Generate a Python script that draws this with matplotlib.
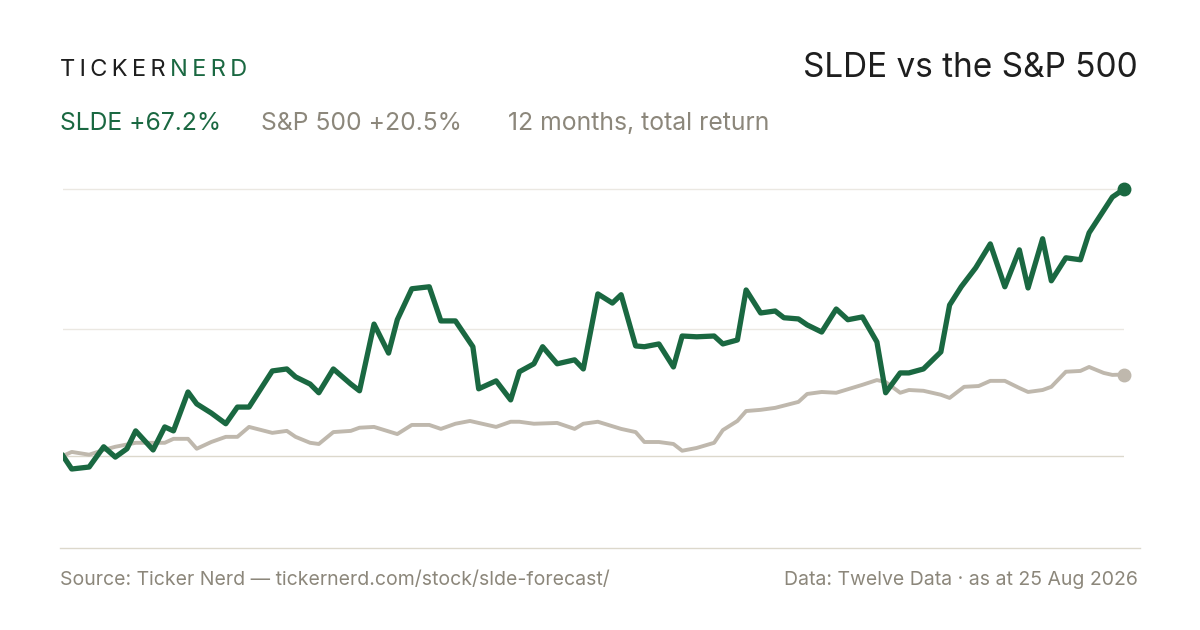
import matplotlib
matplotlib.use('Agg')
import matplotlib.pyplot as plt
from matplotlib.lines import Line2D

plt.rcParams['font.family'] = ['Inter', 'DejaVu Sans']

GREEN = '#1a6841'
GREY_LINE = '#bfb8ad'
GREY_TEXT = '#8c877b'
DARK = '#1e1e1e'

# days since start, total return in %
slde_days = [0, 3, 9, 14, 18, 22, 25, 31, 35, 38, 43, 46, 51, 56, 60, 64, 72, 77, 80, 85,
             88, 93, 99, 102, 107, 112, 115, 120, 126, 130, 135, 141, 143, 149, 154, 157,
             162, 165, 170, 176, 179, 184, 189, 192, 197, 200, 205, 210, 213, 218, 224,
             227, 232, 235, 240, 245, 248, 253, 256, 261, 266, 270, 275, 280, 283, 288,
             291, 296, 302, 305, 309, 314, 319, 324, 329, 332, 337, 340, 345, 350, 353,
             361, 365]
slde_ret = [0, -3.3, -2.8, 2.3, -0.3, 1.8, 6.3, 1.5, 7.3, 6.3, 16.1, 13.1, 10.8, 8.1, 12.3,
            12.3, 21.4, 21.9, 19.9, 18.1, 15.9, 21.9, 18.1, 16.4, 33.2, 25.9, 34.3, 42.1,
            42.6, 34.0, 34.0, 27.5, 16.9, 18.9, 14.1, 21.2, 23.2, 27.5, 23.2, 24.2, 21.9,
            40.8, 38.5, 40.6, 27.7, 27.5, 28.2, 22.4, 30.2, 30.0, 30.2, 28.2, 29.2, 41.8,
            36.0, 36.5, 34.8, 34.5, 33.0, 31.2, 37.0, 34.3, 35.0, 28.7, 15.9, 20.9, 20.9,
            21.9, 26.2, 38.0, 42.6, 47.4, 53.4, 42.6, 51.9, 42.3, 54.7, 44.1, 49.9, 49.4,
            56.2, 65.2, 67.2]

spx_days = [0, 3, 9, 14, 18, 25, 35, 38, 43, 46, 51, 56, 60, 64, 72, 77, 80, 85, 88, 93,
            99, 102, 107, 115, 120, 126, 130, 135, 140, 149, 154, 157, 162, 170, 176, 179,
            184, 192, 197, 200, 205, 210, 213, 218, 224, 227, 232, 235, 240, 245, 253, 256,
            261, 266, 275, 280, 283, 288, 291, 296, 302, 305, 310, 315, 319, 324, 329, 332,
            337, 340, 345, 350, 353, 358, 361, 365]
spx_ret = [0, 1.0, 0.3, 1.5, 2.3, 3.3, 3.3, 4.3, 4.3, 1.8, 3.5, 4.8, 4.8, 7.3, 5.8, 6.3,
           4.8, 3.3, 3.0, 6.0, 6.3, 7.1, 7.3, 5.5, 7.8, 7.8, 6.8, 8.1, 8.8, 7.3, 8.6, 8.6,
           8.1, 8.3, 6.8, 8.1, 8.6, 6.8, 6.0, 3.5, 3.5, 3.0, 1.3, 2.0, 3.3, 6.5, 8.8, 11.3,
           11.6, 12.1, 13.6, 15.6, 16.1, 15.9, 17.9, 19.1, 18.6, 15.9, 16.6, 16.4, 15.4,
           14.6, 17.4, 17.6, 18.9, 18.9, 17.1, 16.1, 16.6, 17.4, 21.2, 21.4, 22.4, 20.9,
           20.4, 20.5]

gridlines = [0, 32, 67.2]

fig = plt.figure(figsize=(12, 6.3), dpi=100)
ax = fig.add_axes([63 / 1200, 1 - 548 / 630, (1124 - 63) / 1200, (548 - 178) / 630])
ax.set_xlim(0, 365)
ax.set_ylim(-23.2, 70)
for g in gridlines:
    ax.axhline(g, color='#dcd8cc' if g == 0 else '#ebe8e2', lw=1, zorder=0)
ax.plot(spx_days, spx_ret, color=GREY_LINE, lw=2.8, solid_joinstyle='round', zorder=2)
ax.plot(slde_days, slde_ret, color=GREEN, lw=3.8, solid_joinstyle='round', zorder=3)
ax.plot(spx_days[-1], spx_ret[-1], 'o', color=GREY_LINE, ms=9, zorder=4, clip_on=False)
ax.plot(slde_days[-1], slde_ret[-1], 'o', color=GREEN, ms=9, zorder=4, clip_on=False)
ax.axis('off')

# bottom rule
fig.add_artist(Line2D([60 / 1200, 1140 / 1200], [1 - 548 / 630] * 2, color='#dcd8cc', lw=1))

# header
hs = '\u2009'
fig.text(60 / 1200, 1 - 70 / 630, hs.join('TICKER'), color=DARK, fontsize=17, va='center')
fig.text(170 / 1200, 1 - 70 / 630, hs.join('NERD'), color=GREEN, fontsize=17, va='center')
fig.text(1138 / 1200, 1 - 68 / 630, 'SLDE vs the S&P 500', color=DARK, fontsize=24,
         ha='right', va='center')

fig.text(60 / 1200, 1 - 124 / 630, 'SLDE +67.2%', color=GREEN, fontsize=17.8, va='center')
fig.text(261 / 1200, 1 - 124 / 630, 'S&P 500 +20.5%', color=GREY_TEXT, fontsize=17.8, va='center')
fig.text(508 / 1200, 1 - 124 / 630, '12 months, total return', color=GREY_TEXT, fontsize=17.8,
         va='center')

# footer
fig.text(60 / 1200, 1 - 580 / 630, 'Source: Ticker Nerd \u2014 tickernerd.com/stock/slde-forecast/',
         color=GREY_TEXT, fontsize=14, va='center')
fig.text(1138 / 1200, 1 - 580 / 630, 'Data: Twelve Data \u00b7 as at 25 Aug 2026',
         color=GREY_TEXT, fontsize=14, ha='right', va='center')

fig.savefig('out.png', dpi=100, facecolor='white')
